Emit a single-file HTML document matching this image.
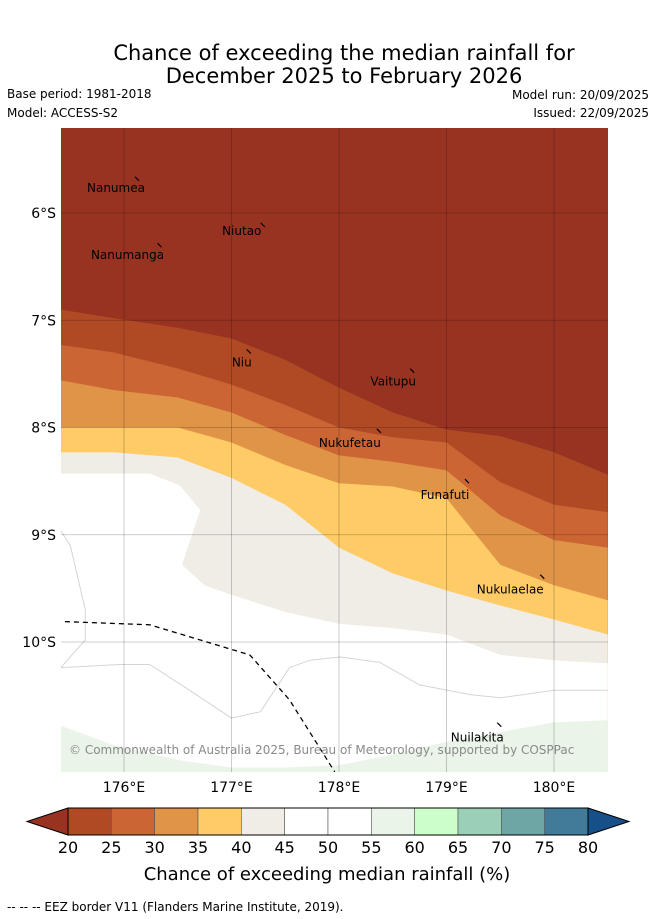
<!DOCTYPE html>
<html><head><meta charset="utf-8">
<style>
body{margin:0;background:#fff;width:655px;height:919px;overflow:hidden;font-family:"DejaVu Sans","Liberation Sans",sans-serif;}
svg{display:block}
</style></head>
<body>
<svg id="chart" width="655" height="919" xmlns="http://www.w3.org/2000/svg" font-family="DejaVu Sans, Liberation Sans, sans-serif">
<text x="344" y="60" font-size="21" text-anchor="middle">Chance of exceeding the median rainfall for</text>
<text x="344" y="83" font-size="21" text-anchor="middle">December 2025 to February 2026</text>
<text x="7" y="98" font-size="12">Base period: 1981-2018</text>
<text x="7" y="117" font-size="12">Model: ACCESS-S2</text>
<text x="649" y="99" font-size="12" text-anchor="end">Model run: 20/09/2025</text>
<text x="649" y="117" font-size="12" text-anchor="end">Issued: 22/09/2025</text>
<defs><clipPath id="mapclip"><rect x="61" y="128" width="547" height="644"/></clipPath></defs>
<g id="map" clip-path="url(#mapclip)"></g>
<g id="overlay"></g>
<g id="cbar"></g>
<text x="327" y="880" font-size="18" text-anchor="middle">Chance of exceeding median rainfall (%)</text>
<text x="7" y="911" font-size="12">--  --  -- EEZ border V11 (Flanders Marine Institute, 2019).</text>
</svg>
<script>
// ---- data ----
const lonTicks=[176,177,178,179,180];
const latTicks=[6,7,8,9,10];
const levels=[20,25,30,35,40,45,50,55,60,65,70,75,80];
const levelColors=["#b04a25","#cb6634","#e09448","#fecb66","#f0ece6","#ffffff","#ffffff","#eaf4e8","#ccfecc","#9ccfb8","#6ea6a6","#427b9a"];
const underColor="#983322", overColor="#174f88";
const bandColors=["#b04a25","#cb6634","#e09448","#fecb66","#f0ece6","#ffffff","#eaf4e8"];
const gridLon=[175.41,175.9,176.5,177,177.5,178,178.5,179,179.5,180,180.5];
const bndA=[6.90,6.98,7.07,7.17,7.37,7.63,7.86,8.02,8.08,8.23,8.44];
const bndB=[7.23,7.30,7.45,7.60,7.79,8.00,8.09,8.14,8.51,8.72,8.79];
const bndC=[7.56,7.65,7.72,7.86,8.07,8.26,8.32,8.40,8.82,9.05,9.12];
const bndD=[8.00,8.00,8.00,8.14,8.35,8.52,8.55,8.66,9.28,9.47,9.61];
const bndE=[8.23,8.23,8.28,8.47,8.72,9.12,9.36,9.52,9.66,9.79,9.93];
const bndFLon=[175.41,176.24,176.52,176.71,176.54,176.75,177.00,177.50,178.00,178.50,179.00,179.50,180.00,180.50];
const bndFLat=[8.43,8.43,8.54,8.77,9.28,9.47,9.56,9.72,9.83,9.87,9.93,10.12,10.17,10.20];
const bndG=[10.78,10.96,11.10,11.17,11.17,11.15,11.05,10.93,10.84,10.75,10.73];
const line1Lon=[175.41,175.50,175.64,175.64,175.41];
const line1Lat=[8.96,9.10,9.70,9.98,10.24];
const line2Lon=[175.41,175.96,176.24,176.61,177.00,177.27,177.54,177.73,178.01,178.38,178.75,179.22,179.50,180.00,180.50];
const line2Lat=[10.24,10.21,10.21,10.45,10.71,10.65,10.24,10.17,10.14,10.19,10.40,10.49,10.52,10.45,10.45];
const eezLon=[175.45,176.24,177.17,177.54,177.96];
const eezLat=[9.81,9.84,10.12,10.54,11.21];
const islandNames=["Nanumea","Nanumanga","Niutao","Niu","Vaitupu","Nukufetau","Funafuti","Nukulaelae","Nuilakita"];
const islandLon=[176.13,176.34,177.30,177.17,178.69,178.38,179.20,179.90,179.50];
const islandLat=[5.69,6.31,6.12,7.30,7.48,8.04,8.51,9.40,10.78];
const labelDx=[-22,-33,-22,-8,-20,-30,-23,-33,-23];
const labelDy=[12,13,9,14,14,15,17,16,16];
// ---- axes ----
const X=lon=>124+(lon-176)*107.5;
const Y=lat=>213+(lat-6)*107.25;
const NS="http://www.w3.org/2000/svg";
function mk(tag,attrs,parent){const e=document.createElementNS(NS,tag);for(const k in attrs)e.setAttribute(k,attrs[k]);parent.appendChild(e);return e;}
const map=document.getElementById('map'), ov=document.getElementById('overlay'), cb=document.getElementById('cbar');
const bg=mk('rect',{x:61,y:128,width:547,height:644,fill:underColor},map);


function fillBelow(lons,lats,color,name){
  let d='M'+X(lons[0])+','+Y(12);
  for(let i=0;i<lons.length;i++) d+=' L'+X(lons[i]).toFixed(1)+','+Y(lats[i]).toFixed(1);
  d+=' L'+X(lons[lons.length-1])+','+Y(12)+' Z';
  const p=mk('path',{d:d,fill:color},map);
  
  
}
fillBelow(gridLon,bndA,bandColors[0],'band-20-25');
fillBelow(gridLon,bndB,bandColors[1],'band-25-30');
fillBelow(gridLon,bndC,bandColors[2],'band-30-35');
fillBelow(gridLon,bndD,bandColors[3],'band-35-40');
fillBelow(gridLon,bndE,bandColors[4],'band-40-45');
fillBelow(bndFLon,bndFLat,bandColors[5],'band-45-55');
fillBelow(gridLon,bndG,bandColors[6],'band-55-60');
function line(lons,lats,attrs,name,parent){
  let d='';
  for(let i=0;i<lons.length;i++) d+=(i?' L':'M')+X(lons[i]).toFixed(1)+','+Y(lats[i]).toFixed(1);
  const p=mk('path',Object.assign({d:d,fill:'none'},attrs),parent);
  
  
}
line(line1Lon,line1Lat,{stroke:'#d5d5d5','stroke-width':1},'contour-line-west',map);
line(line2Lon,line2Lat,{stroke:'#d5d5d5','stroke-width':1},'contour-line-south',map);
lonTicks.forEach(l=>{
  const g=mk('line',{x1:X(l),x2:X(l),y1:128,y2:772,stroke:'rgba(0,0,0,0.25)','stroke-width':0.8},map);
  
  
  const t=mk('text',{x:X(l),y:792,'font-size':14,'text-anchor':'middle'},ov);
  
  
  t.textContent=l+'°E';
});
latTicks.forEach(l=>{
  const g=mk('line',{x1:61,x2:608,y1:Y(l),y2:Y(l),stroke:'rgba(0,0,0,0.25)','stroke-width':0.8},map);
  
  
  const t=mk('text',{x:56,y:Y(l)+5,'font-size':14,'text-anchor':'end'},ov);
  
  
  t.textContent=l+'°S';
});
line(eezLon,eezLat,{stroke:'#000','stroke-width':1.3,'stroke-dasharray':'5,4'},'eez-border',map);
islandNames.forEach((n,i)=>{
  const x=X(islandLon[i]), y=Y(islandLat[i]);
  const m=mk('path',{d:'M'+(x-3)+','+(y-3)+' L'+(x+1)+','+(y+1),stroke:'#000','stroke-width':1.2,fill:'none'},map);
  
  
  const t=mk('text',{x:x+labelDx[i],y:y+labelDy[i],'font-size':12,'text-anchor':'middle'},map);
  
  
  t.textContent=n;
});
const cp=mk('text',{x:69,y:754,'font-size':12,fill:'#8a8a8a'},map);


cp.textContent='© Commonwealth of Australia 2025, Bureau of Meteorology, supported by COSPPac';
const cbX=v=>68+(v-20)*(520/60);
const cy0=808, cy1=835;
const tl=mk('path',{d:'M'+cbX(20)+','+cy0+' L27,'+((cy0+cy1)/2)+' L'+cbX(20)+','+cy1+' Z',fill:underColor,stroke:'#000','stroke-width':1},cb);


const tr=mk('path',{d:'M'+cbX(80)+','+cy0+' L629,'+((cy0+cy1)/2)+' L'+cbX(80)+','+cy1+' Z',fill:overColor,stroke:'#000','stroke-width':1},cb);


for(let i=0;i<levelColors.length;i++){
  const r=mk('rect',{x:cbX(levels[i]),y:cy0,width:cbX(levels[i+1])-cbX(levels[i]),height:cy1-cy0,fill:levelColors[i],stroke:'#555','stroke-width':0.6},cb);
  
  
}
const fr=mk('rect',{x:cbX(20),y:cy0,width:cbX(80)-cbX(20),height:cy1-cy0,fill:'none',stroke:'#000','stroke-width':1},cb);


levels.forEach(v=>{
  const t=mk('text',{x:cbX(v),y:853,'font-size':16,'text-anchor':'middle'},cb);
  
  
  t.textContent=v;
});
</script>
</body></html>
